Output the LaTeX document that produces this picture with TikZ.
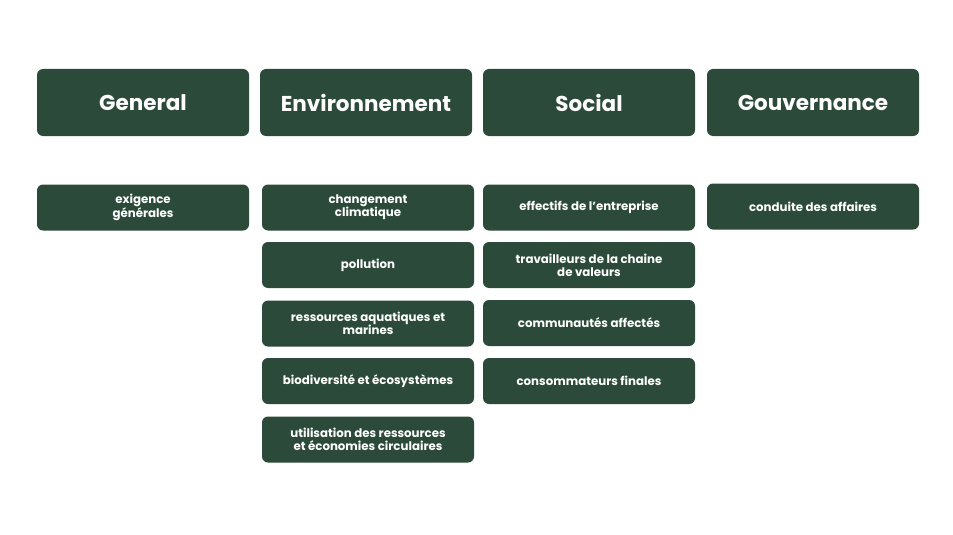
\documentclass[tikz,border=0pt]{standalone}
\usepackage{fontspec}
\setmainfont{Poppins}[UprightFont=* Bold, BoldFont=* Bold]
\definecolor{boxgreen}{HTML}{2B4A39}
\begin{document}
\begin{tikzpicture}[x=1pt,y=-1pt,
  card/.style={fill=boxgreen, draw=none, rounded corners=6pt, text=white, align=center, inner sep=0pt},
  head/.style={card, minimum width=212pt, minimum height=67pt, font=\fontsize{21.5}{24}\selectfont},
  item/.style={card, minimum width=212pt, minimum height=46pt, font=\fontsize{11.8}{13}\selectfont}
]
\useasboundingbox (0,0) rectangle (953,535);
\fill[white] (0,0) rectangle (953,535);
% headers
\node[head] (hgen) at (143,102.5) {General};
\node[head] (henv) at (366,102.5) {Environnement};
\node[head] (hsoc) at (589,102.5) {Social};
\node[head] (hgov) at (813,102.5) {Gouvernance};
% general
\node[item] (g1) at (143,207.5) {exigence\\générales};
% environnement
\node[item] (e1) at (368,207.5) {changement\\climatique};
\node[item] (e2) at (368,265) {pollution};
\node[item] (e3) at (368,323.5) {ressources aquatiques et\\marines};
\node[item] (e4) at (368,381) {biodiversité et écosystèmes};
\node[item] (e5) at (368,439.5) {utilisation des ressources\\et économies circulaires};
% social
\node[item] (s1) at (589,207.5) {effectifs de l'entreprise};
\node[item] (s2) at (589,265) {travailleurs de la chaine\\de valeurs};
\node[item] (s3) at (589,323) {communautés affectés};
\node[item] (s4) at (589,381) {consommateurs finales};
% gouvernance
\node[item] (v1) at (813,206.5) {conduite des affaires};
\end{tikzpicture}
\end{document}
